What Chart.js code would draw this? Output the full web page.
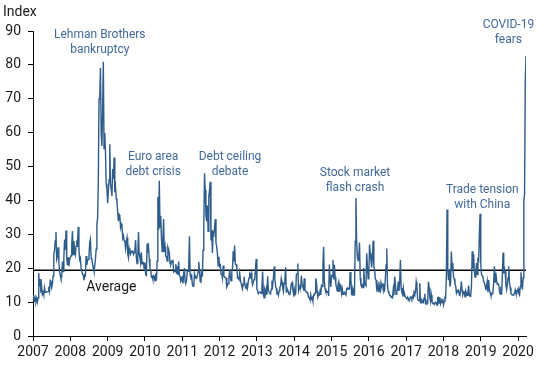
<!DOCTYPE html>
<html>
<head>
<meta charset="utf-8">
<script src="https://cdn.jsdelivr.net/npm/chart.js@4/dist/chart.umd.min.js"></script>
<style>
  html, body { margin: 0; padding: 0; background: #fff; }
  canvas { display: block; }
</style>
</head>
<body>
<canvas id="vixChart" width="550" height="365"></canvas>
<script>
// Weekly readings of the index, one array per year (2020 stops mid-March)
const v2007 = [12.1,10.9,10.4,11.3,10.1,11.1,10.0,11.2,18.6,14.6, 16.8,12.8,14.6,12.3,12.9,12.1,14.2,12.9,13.0,12.9, 13.1,13.1,14.5,13.3,16.4,16.2,14.3,15.2,17.7,24.2, 25.2,28.2,30.7,22.6,23.4,26.2,21.9,19.0,18.0,17.0, 17.4,22.0,19.0,23.2,28.5,25.5,31.1,22.9,20.9,23.2, 20.6,22.5];
const v2008 = [23.2,23.7,27.2,31.0,24.0,28.0,25.0,24.0,26.5,27.5, 27.0,32.2,25.7,22.5,23.0,20.1,20.1,18.2,18.0,16.5, 18.0,17.8,23.6,21.0,22.2,22.6,24.0,27.5,28.5,23.0, 22.6,21.2,20.0,19.0,20.7,22.6,25.6,33.1,34.7,45.1, 69.9,70.3,79.1,59.9,56.1,66.3,80.9,55.3,59.9,54.3, 44.9,43.4];
const v2009 = [39.2,42.8,46.1,56.6,44.8,43.4,41.3,49.3,46.4,52.7, 42.4,43.9,40.5,39.7,36.5,33.9,35.8,35.3,32.1,33.1, 32.6,28.9,29.6,28.2,27.9,25.9,27.9,29.0,24.3,23.1, 25.9,25.0,24.2,25.0,24.8,25.3,24.1,24.6,25.6,28.3, 23.1,21.4,23.5,30.7,24.2,23.1,21.6,24.7,21.3,21.6, 21.7,19.5];
const v2010 = [21.7,18.1,17.9,27.3,24.6,26.1,22.7,20.0,19.5,17.4, 17.6,16.7,17.8,17.5,16.1,18.4,16.3,22.1,41.0,31.2, 45.8,32.1,35.5,28.8,24.9,28.5,34.5,24.8,26.3,23.5, 23.5,22.1,26.2,25.5,24.5,21.3,21.2,22.0,21.7,22.5, 18.9,19.1,19.0,21.2,18.3,20.6,18.0,22.0,18.0,17.6, 16.1,16.5];
const v2011 = [17.1,15.5,18.5,20.0,15.9,15.7,16.4,19.2,19.1,21.0, 29.4,18.0,17.4,17.9,15.3,14.7,14.8,18.4,17.1,17.4, 17.1,17.9,18.9,21.9,19.3,16.1,15.9,19.5,17.5,25.3, 32.0,48.0,43.1,35.6,33.9,38.5,30.9,41.3,43.0,45.5, 28.2,31.3,24.5,30.5,30.0,32.0,34.5,27.5,26.3,24.3, 20.7,23.4];
const v2012 = [20.6,20.9,18.3,18.5,17.1,20.8,17.8,17.3,17.3,17.1, 14.5,15.0,15.5,16.7,19.6,17.4,16.3,19.2,19.9,25.1, 22.0,26.7,21.2,21.1,20.1,17.1,17.1,16.7,18.6,16.7, 15.6,14.7,14.0,15.2,17.5,15.6,14.5,14.0,15.7,14.3, 16.1,17.1,18.1,17.6,18.6,16.4,15.1,15.9,16.6,17.0, 19.7,22.7];
const v2013 = [13.8,13.4,12.5,12.9,12.9,13.0,12.5,14.2,19.0,12.6, 11.3,13.6,12.7,13.9,12.1,17.6,13.6,12.9,12.6,12.5, 13.8,16.3,15.1,17.2,20.5,16.9,14.9,14.0,12.5,12.7, 12.0,13.4,14.4,14.8,17.0,15.9,14.2,13.1,15.5,16.7, 20.3,13.0,13.1,13.5,12.9,12.2,12.3,13.7,15.5,15.8, 13.8,12.5];
const v2014 = [13.8,12.1,12.4,18.1,18.4,21.4,13.6,14.7,14.0,14.1, 17.8,15.0,14.4,13.9,17.0,13.4,13.3,12.9,12.9,12.4, 11.4,11.4,10.7,12.2,10.9,11.3,10.3,12.1,12.1,12.7, 17.0,15.8,13.2,11.5,12.1,12.1,13.3,12.1,14.9,14.6, 21.2,26.3,16.1,14.0,13.1,13.3,12.9,13.3,11.8,21.1, 16.5,14.5];
const v2015 = [17.8,17.6,22.4,16.7,21.0,17.3,15.3,14.3,13.3,15.2, 16.0,13.0,15.1,14.7,12.6,13.9,12.3,12.7,12.9,12.4, 12.1,13.8,14.2,13.8,14.0,14.0,18.9,16.8,12.0,13.7, 12.1,13.4,12.8,28.0,40.7,27.8,23.2,22.3,23.6,27.6, 17.1,15.1,14.5,15.1,14.3,20.1,15.5,15.1,14.8,24.4, 20.7,16.9];
const v2016 = [18.2,27.0,24.4,22.3,20.2,23.4,28.1,20.5,19.8,16.9, 16.5,14.0,14.7,13.1,16.0,13.6,13.2,15.7,14.7,15.0, 15.2,13.1,13.5,17.0,21.0,25.8,14.8,13.2,12.7,12.0, 12.0,11.4,11.5,11.3,13.7,12.0,17.5,15.4,12.3,13.3, 13.5,16.1,13.3,16.2,22.5,14.2,12.9,12.3,14.1,11.8, 12.2,11.4];
const v2017 = [11.3,11.2,11.5,10.6,11.0,10.9,11.5,11.5,11.0,11.7, 11.3,13.0,12.4,12.9,16.0,14.6,10.8,10.6,10.4,15.6, 9.8,9.8,10.7,10.4,10.0,11.2,12.5,9.5,9.4,10.3, 10.0,16.0,14.3,11.3,10.1,12.1,10.2,9.6,9.5,9.7, 9.6,10.0,9.8,9.1,11.3,11.4,9.7,11.4,9.6,10.5, 9.9,11.0];
const v2018 = [9.2,10.2,11.3,11.1,17.3,37.3,19.5,16.5,19.6,14.6, 15.8,24.9,20.0,21.5,17.4,16.9,15.4,14.8,12.7,13.4, 13.2,13.5,12.2,12.0,13.8,16.1,13.4,12.2,12.9,13.0, 11.6,13.2,12.6,12.0,12.9,14.9,12.1,11.7,12.1,14.8, 25.0,19.9,24.2,19.3,17.4,18.1,21.5,18.1,23.2,21.6, 30.1,36.1];
const v2019 = [21.4,18.0,17.8,17.4,16.1,15.7,14.9,13.5,14.6,16.1, 12.9,16.5,13.7,12.8,12.0,12.1,12.7,12.9,16.0,20.6, 15.9,18.7,16.3,15.3,15.4,15.1,13.3,12.4,14.5,12.2, 17.6,24.6,18.5,19.9,19.0,15.0,13.7,15.3,17.2,20.6, 15.6,14.3,12.7,12.3,12.1,12.1,12.3,12.6,13.6,12.6, 12.5,13.4];
const v2020 = [14.0,12.6,12.1,14.6,18.8,15.5,13.7,17.1,40.1,41.9,75.5,82.7];

const years = [2007,2008,2009,2010,2011,2012,2013,2014,2015,2016,2017,2018,2019,2020];
const yearValues = [v2007,v2008,v2009,v2010,v2011,v2012,v2013,v2014,v2015,v2016,v2017,v2018,v2019,v2020];
const yTicks = [0,10,20,30,40,50,60,70,80,90];
const averageLevel = 19.4;

// Event notes: text lines and the (year, index) where the first line sits
const notes = [
    { lines: ["Lehman Brothers", "bankruptcy"], at: [2008.79, 88.8] },
    { lines: ["Euro area", "debt crisis"],      at: [2010.22, 52.8] },
    { lines: ["Debt ceiling", "debate"],        at: [2012.28, 52.8] },
    { lines: ["Stock market", "flash crash"],   at: [2015.63, 48.1] },
    { lines: ["Trade tension", "with China"],   at: [2019.04, 43.1] },
    { lines: ["COVID-19", "fears"],             at: [2019.74, 91.8] }
];

// Build the point list: each weekly reading placed at year + week/52
const points = [];
years.forEach((yr, i) => {
    yearValues[i].forEach((v, w) => points.push({ x: yr + w / 52, y: v }));
});
const lastX = points[points.length - 1].x;

const FONT = "Roboto, 'Liberation Sans', sans-serif";
const LINE_BLUE = "#2e5c8b";
const NOTE_BLUE = "#41699a";
const TEXT = "#1a1a1a";

const textPlugin = {
    id: "textPlugin",
    afterDraw(chart) {
        const ctx = chart.ctx;
        const xs = chart.scales.x;
        const ys = chart.scales.y;
        ctx.save();

        // axis title
        ctx.fillStyle = TEXT;
        ctx.font = "14px " + FONT;
        ctx.textAlign = "left";
        ctx.textBaseline = "middle";
        ctx.fillText("Index", 3, 12);

        // average label
        ctx.textAlign = "center";
        ctx.fillText("Average", xs.getPixelForValue(2009.1), ys.getPixelForValue(averageLevel) + 17);

        // event notes
        ctx.fillStyle = NOTE_BLUE;
        ctx.font = "12px " + FONT;
        notes.forEach(n => {
            const px = xs.getPixelForValue(n.at[0]);
            const py = ys.getPixelForValue(n.at[1]);
            n.lines.forEach((t, k) => ctx.fillText(t, px, py + k * 15));
        });
        ctx.restore();
    }
};

const ctx = document.getElementById("vixChart").getContext("2d");
new Chart(ctx, {
    type: "line",
    data: {
        datasets: [
            {
                data: points,
                borderColor: LINE_BLUE,
                borderWidth: 1.4,
                pointRadius: 0,
                tension: 0,
                fill: false
            },
            {
                data: [{ x: 2007, y: averageLevel }, { x: lastX, y: averageLevel }],
                borderColor: "#000",
                borderWidth: 1.5,
                pointRadius: 0,
                fill: false
            }
        ]
    },
    options: {
        responsive: false,
        animation: false,
        layout: { padding: { top: 31, right: 24, left: 0, bottom: 0 } },
        plugins: {
            legend: { display: false },
            tooltip: { enabled: false }
        },
        scales: {
            x: {
                type: "linear",
                min: 2007,
                max: lastX,
                afterBuildTicks: s => { s.ticks = years.map(v => ({ value: v })); },
                afterFit: s => { s.height = 29; },
                grid: { drawOnChartArea: false, tickLength: 5, color: "#000" },
                border: { color: "#000", width: 1 },
                ticks: {
                    padding: 3,
                    maxRotation: 0,
                    autoSkip: false,
                    color: TEXT,
                    font: { family: FONT, size: 14 },
                    callback: v => String(v)
                }
            },
            y: {
                min: 0,
                max: 90,
                afterBuildTicks: s => { s.ticks = yTicks.map(v => ({ value: v })); },
                afterFit: s => { s.width = 33; },
                grid: { drawOnChartArea: false, tickLength: 5, color: "#000" },
                border: { color: "#000", width: 1 },
                ticks: {
                    padding: 7,
                    color: TEXT,
                    font: { family: FONT, size: 14 },
                    callback: v => String(v)
                }
            }
        }
    },
    plugins: [textPlugin]
});
</script>
</body>
</html>
